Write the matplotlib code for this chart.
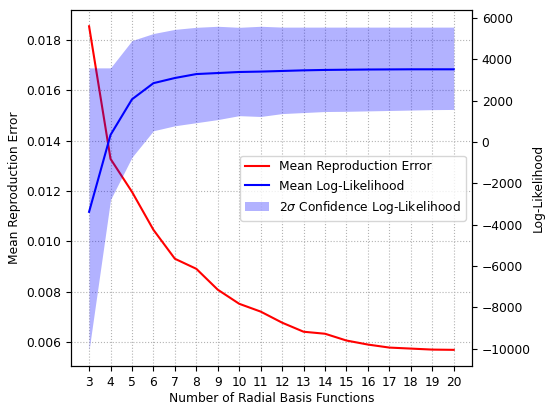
import numpy as np
import matplotlib.pyplot as plt

n_rbf = np.arange(3, 21)
mean_error = [0.01855, 0.01328, 0.01197, 0.01046, 0.00931, 0.00891, 0.00808, 0.00752,
              0.00721, 0.00677, 0.00641, 0.00633, 0.00606, 0.00590, 0.00578, 0.00574,
              0.00570, 0.00569]
mean_ll = [-3380, 340, 2060, 2840, 3090, 3280, 3330, 3380, 3400, 3430, 3460, 3480,
           3490, 3500, 3505, 3510, 3510, 3510]
ll_upper = [3580, 3580, 4900, 5240, 5440, 5540, 5590, 5540, 5590, 5550, 5550, 5550,
            5550, 5550, 5550, 5550, 5550, 5550]
ll_lower = [-10050, -2790, -740, 540, 780, 930, 1080, 1270, 1230, 1370, 1420, 1470,
            1480, 1500, 1520, 1540, 1560, 1570]

plt.rcParams['font.size'] = 8.8

fig, ax1 = plt.subplots(figsize=(5.45, 4.04), dpi=100)
fig.subplots_adjust(left=0.130, right=0.866, top=0.975, bottom=0.094)

l1, = ax1.plot(n_rbf, mean_error, 'r', label='Mean Reproduction Error')
ax1.set_xlabel('Number of Radial Basis Functions', labelpad=2)
ax1.set_ylabel('Mean Reproduction Error')
ax1.set_xticks(n_rbf)
ax1.grid(linestyle=':', color='0.7')

ax2 = ax1.twinx()
l2, = ax2.plot(n_rbf, mean_ll, 'b', label='Mean Log-Likelihood')
f = ax2.fill_between(n_rbf, ll_lower, ll_upper, color='b', alpha=0.3, linewidth=0,
                     label=r'2$\sigma$ Confidence Log-Likelihood')
ax2.set_ylabel('Log-Likelihood', labelpad=1)

ax2.legend(handles=[l1, l2, f], loc='center right')
fig.savefig('out.png')
